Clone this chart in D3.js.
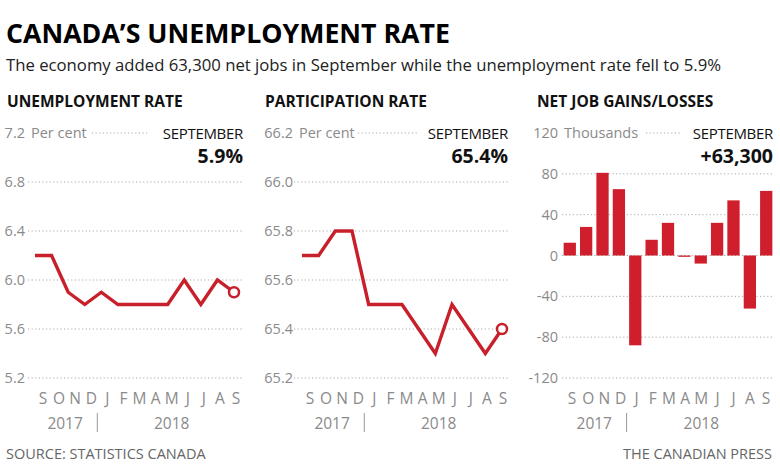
<!DOCTYPE html>
<html lang="en">
<head>
  <meta charset="UTF-8">
  <title>Canada's unemployment rate</title>
  <style>
    body { margin: 0; background: #fff; }
    svg { font-family: 'Open Sans', sans-serif; }
    .grid line { stroke: #aaa; stroke-dasharray: 1.2 2.4; }
    .tick-label { fill: #8a8a8a; font-size: 14.5px; }
    .month { fill: #8a8a8a; font-size: 15.5px; }
  </style>
</head>
<body>
  <div id="app"></div>
  <script src="https://cdn.jsdelivr.net/npm/d3@7"></script>
  <script>
    const months = ['S', 'O', 'N', 'D', 'J', 'F', 'M', 'A', 'M', 'J', 'J', 'A', 'S']
    const unemployment = [6.2, 6.2, 5.9, 5.8, 5.9, 5.8, 5.8, 5.8, 5.8, 6.0, 5.8, 6.0, 5.9]
    const participation = [65.7, 65.7, 65.8, 65.8, 65.5, 65.5, 65.5, 65.4, 65.3, 65.5, 65.4, 65.3, 65.4]
    const netJobs = [12.5, 28, 81, 65, -88, 15.4, 32, -1.3, -7.9, 32, 54, -52, 63.3]
    const unemploymentTicks = [7.2, 6.8, 6.4, 6.0, 5.6, 5.2]
    const participationTicks = [66.2, 66.0, 65.8, 65.6, 65.4, 65.2]
    const jobTicks = [120, 80, 40, 0, -40, -80, -120]

    const red = '#c8202b'
    const W = 780, H = 468
    const svg = d3.select('#app').append('svg')
      .attr('width', W)
      .attr('height', H)

    // headline
    svg.append('text')
      .attr('x', 6).attr('y', 43)
      .attr('font-size', 27).attr('font-weight', 700)
      .attr('textLength', 444).attr('lengthAdjust', 'spacingAndGlyphs')
      .text('CANADA’S UNEMPLOYMENT RATE')
    svg.append('text')
      .attr('x', 6).attr('y', 71)
      .attr('font-size', 16.5).attr('fill', '#222')
      .attr('textLength', 715).attr('lengthAdjust', 'spacingAndGlyphs')
      .text('The economy added 63,300 net jobs in September while the unemployment rate fell to 5.9%')

    const yTop = 133, yBottom = 378

    function panel(opt) {
      const g = svg.append('g')

      g.append('text')
        .attr('x', opt.titleX).attr('y', 107)
        .attr('font-size', 15.5).attr('font-weight', 700)
        .attr('fill', '#111')
        .text(opt.title)

      const y = d3.scaleLinear().domain(opt.domain).range([yBottom, yTop])

      // gridlines (top one is partial, around the unit label)
      const grid = g.append('g').attr('class', 'grid')
      grid.selectAll('line')
        .data(opt.ticks.slice(1))
        .join('line')
        .attr('x1', opt.gridX0).attr('x2', opt.gridX1)
        .attr('y1', d => y(d)).attr('y2', d => y(d))
      grid.append('line')
        .attr('x1', opt.topLine[0]).attr('x2', opt.topLine[1])
        .attr('y1', y(opt.ticks[0])).attr('y2', y(opt.ticks[0]))

      g.selectAll('.tick-label')
        .data(opt.ticks)
        .join('text')
        .attr('class', 'tick-label')
        .attr('x', opt.labelX)
        .attr('y', d => y(d) + 5)
        .attr('text-anchor', 'end')
        .text(opt.fmt)

      g.append('text')
        .attr('class', 'tick-label')
        .attr('x', opt.labelX + 6)
        .attr('y', y(opt.ticks[0]) + 5)
        .text(opt.unit)

      g.append('text')
        .attr('x', opt.gridX1).attr('y', 139)
        .attr('text-anchor', 'end')
        .attr('font-size', 15).attr('fill', '#111')
        .attr('letter-spacing', -0.3)
        .text('SEPTEMBER')
      g.append('text')
        .attr('x', opt.gridX1).attr('y', 163)
        .attr('text-anchor', 'end')
        .attr('font-size', 19.5).attr('font-weight', 700).attr('fill', '#111')
        .text(opt.big)

      const mx = d3.scalePoint().domain(d3.range(months.length)).range(opt.monthRange)
      g.selectAll('.month')
        .data(months)
        .join('text')
        .attr('class', 'month')
        .attr('x', (d, i) => mx(i))
        .attr('y', 404)
        .attr('text-anchor', 'middle')
        .text(d => d)

      g.append('text').attr('class', 'month')
        .attr('x', (mx(0) + mx(3)) / 2 - 2).attr('y', 429)
        .attr('text-anchor', 'middle').text('2017')
      g.append('text').attr('class', 'month')
        .attr('x', (mx(4) + mx(12)) / 2).attr('y', 429)
        .attr('text-anchor', 'middle').text('2018')
      g.append('line')
        .attr('x1', (mx(3) + mx(4)) / 2 - 2).attr('x2', (mx(3) + mx(4)) / 2 - 2)
        .attr('y1', 413).attr('y2', 432)
        .attr('stroke', '#999').attr('stroke-width', 1)

      return { g, y }
    }

    function linePanel(opt, values) {
      const { g, y } = panel(opt)
      const x = d3.scalePoint().domain(d3.range(values.length)).range(opt.plotRange)
      g.append('path')
        .datum(values)
        .attr('fill', 'none')
        .attr('stroke', red)
        .attr('stroke-width', 3.4)
        .attr('stroke-linejoin', 'miter')
        .attr('d', d3.line().x((d, i) => x(i)).y(d => y(d)))
      const last = values.length - 1
      g.append('circle')
        .attr('cx', x(last)).attr('cy', y(values[last]))
        .attr('r', 5)
        .attr('fill', '#fff')
        .attr('stroke', red)
        .attr('stroke-width', 2.5)
    }

    linePanel({
      title: 'UNEMPLOYMENT RATE', titleX: 7,
      domain: [5.2, 7.2], ticks: unemploymentTicks, fmt: d3.format('.1f'),
      labelX: 25, gridX0: 28, gridX1: 243, topLine: [92, 147],
      unit: 'Per cent', big: '5.9%',
      monthRange: [43, 236], plotRange: [35, 234]
    }, unemployment)

    linePanel({
      title: 'PARTICIPATION RATE', titleX: 265,
      domain: [65.2, 66.2], ticks: participationTicks, fmt: d3.format('.1f'),
      labelX: 293, gridX0: 294, gridX1: 508, topLine: [358, 418],
      unit: 'Per cent', big: '65.4%',
      monthRange: [310, 503], plotRange: [302, 502]
    }, participation)

    // net job gains/losses bars
    const jobOpt = {
      title: 'NET JOB GAINS/LOSSES', titleX: 537,
      domain: [-120, 120], ticks: jobTicks, fmt: d => d,
      labelX: 558, gridX0: 562, gridX1: 773, topLine: [646, 680],
      unit: 'Thousands', big: '+63,300',
      monthRange: [572, 766]
    }
    const jp = panel(jobOpt)
    const xb = d3.scaleBand().domain(d3.range(netJobs.length)).range([562, 774]).paddingInner(0.25).paddingOuter(0.1)
    jp.g.selectAll('rect')
      .data(netJobs)
      .join('rect')
      .attr('x', (d, i) => xb(i))
      .attr('width', xb.bandwidth())
      .attr('y', d => jp.y(Math.max(0, d)))
      .attr('height', d => Math.max(1, Math.abs(jp.y(d) - jp.y(0))))
      .attr('fill', '#d01f2c')

    // footer
    svg.append('text')
      .attr('x', 6).attr('y', 459)
      .attr('font-size', 14.5).attr('fill', '#666')
      .text('SOURCE: STATISTICS CANADA')
    svg.append('text')
      .attr('x', 772).attr('y', 459)
      .attr('text-anchor', 'end')
      .attr('font-size', 14.5).attr('fill', '#666')
      .text('THE CANADIAN PRESS')
  </script>
</body>
</html>
